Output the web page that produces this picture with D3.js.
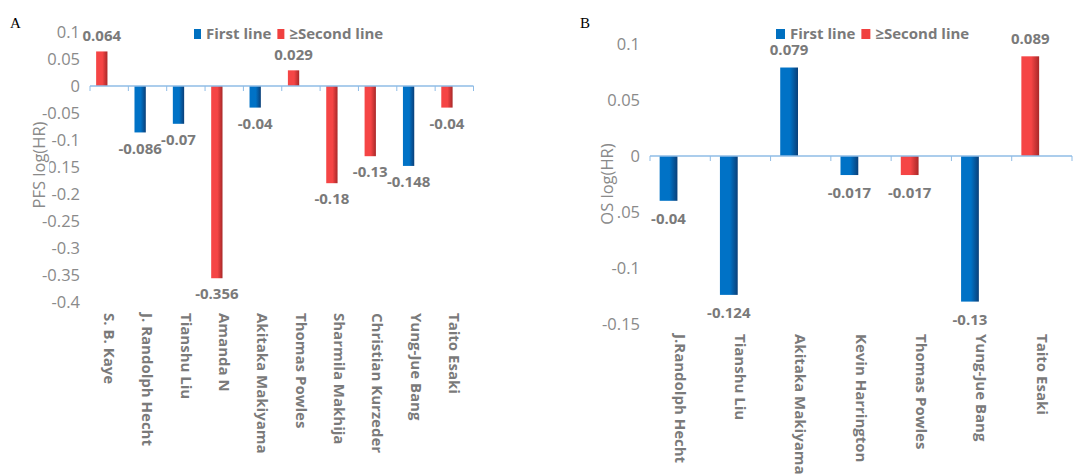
<!DOCTYPE html>
<html>
<head>
<meta charset="utf-8">
<script src="https://cdn.jsdelivr.net/npm/d3@7"></script>
<style>
  body { margin: 0; background: #fff; }
  svg { display: block; font-family: "Open Sans", "Noto Sans", sans-serif; }
</style>
</head>
<body>
<div id="vis"></div>
<script>
// panel A - PFS
var pfsNames = ['S. B. Kaye', 'J. Randolph Hecht', 'Tianshu Liu', 'Amanda N', 'Akitaka Makiyama',
  'Thomas Powles', 'Sharmila Makhija', 'Christian Kurzeder', 'Yung-Jue Bang', 'Taito Esaki'];
var pfsValues = [0.064, -0.086, -0.07, -0.356, -0.04, 0.029, -0.18, -0.13, -0.148, -0.04];
var pfsLine = ['second', 'first', 'first', 'second', 'first', 'second', 'second', 'second', 'first', 'second'];
var pfsTicks = [0.1, 0.05, 0, -0.05, -0.1, -0.15, -0.2, -0.25, -0.3, -0.35, -0.4];

// panel B - OS
var osNames = ['J.Randolph Hecht', 'Tianshu Liu', 'Akitaka Makiyama', 'Kevin Harrington',
  'Thomas Powles', 'Yung-Jue Bang', 'Taito Esaki'];
var osValues = [-0.04, -0.124, 0.079, -0.017, -0.017, -0.13, 0.089];
var osLine = ['first', 'first', 'first', 'first', 'second', 'first', 'second'];
var osTicks = [0.1, 0.05, 0, -0.05, -0.1, -0.15];

var legendLabels = ['First line', '\u2265Second line'];

var WIDTH = 1091, HEIGHT = 474;
var svg = d3.select('#vis').append('svg')
  .attr('width', WIDTH)
  .attr('height', HEIGHT);

// bar gradients
var defs = svg.append('defs');
function addGrad(id, c1, c2) {
  var g = defs.append('linearGradient').attr('id', id)
    .attr('x1', '0%').attr('x2', '100%').attr('y1', '0%').attr('y2', '0%');
  g.append('stop').attr('offset', '0%').attr('stop-color', c1);
  g.append('stop').attr('offset', '55%').attr('stop-color', c1);
  g.append('stop').attr('offset', '100%').attr('stop-color', c2);
}
addGrad('gFirst', '#0072c6', '#0a3f78');
addGrad('gSecond', '#f54545', '#a82828');
var fillFor = { first: 'url(#gFirst)', second: 'url(#gSecond)' };
var legendColor = { first: '#0070c0', second: '#f0403f' };

var tickColor = '#8a8a8a';
var labelColor = '#7a7a7a';
var axisColor = '#8fbce6';

function drawPanel(opt) {
  var g = svg.append('g');

  var x = d3.scaleBand().domain(opt.names).range([opt.x0, opt.x1]);
  var y = d3.scaleLinear().domain([opt.ymin, opt.ymax]).range([opt.yBottom, opt.yTop]);
  var bw = x.bandwidth();

  // panel letter
  g.append('text')
    .attr('x', opt.letterX).attr('y', 28)
    .style('font-family', '"Liberation Serif", "DejaVu Serif", serif')
    .style('font-size', '15px')
    .attr('fill', '#000')
    .text(opt.letter);

  // y tick labels
  g.selectAll('text.ytick')
    .data(opt.ticks)
    .enter()
    .append('text')
    .attr('class', 'ytick')
    .attr('x', opt.tickX)
    .attr('y', d => y(d))
    .attr('dy', '0.35em')
    .attr('text-anchor', 'end')
    .attr('fill', tickColor)
    .style('font-size', '16.5px')
    .text(d => String(d));

  // y axis title (white box behind, it covers part of a tick label in B)
  var tt = g.append('g')
    .attr('transform', 'translate(' + opt.titleX + ',' + opt.titleY + ') rotate(-90)');
  var title = tt.append('text')
    .attr('text-anchor', 'middle')
    .attr('dy', '0.35em')
    .attr('fill', tickColor)
    .style('font-size', '16.5px')
    .text(opt.title);
  var bb = title.node().getBBox();
  tt.insert('rect', 'text')
    .attr('x', bb.x - 1).attr('y', bb.y + 1.5)
    .attr('width', bb.width + 2).attr('height', bb.height - 2)
    .attr('fill', '#fff');

  // bars
  g.selectAll('rect.bar')
    .data(opt.values)
    .enter()
    .append('rect')
    .attr('class', 'bar')
    .attr('x', (d, i) => x(opt.names[i]) + bw * 0.16)
    .attr('width', bw * 0.295)
    .attr('y', d => y(Math.max(0, d)))
    .attr('height', d => Math.abs(y(d) - y(0)))
    .attr('fill', (d, i) => fillFor[opt.line[i]]);

  // zero axis line and ticks
  g.append('line')
    .attr('x1', opt.x0).attr('x2', opt.x1)
    .attr('y1', y(0)).attr('y2', y(0))
    .attr('stroke', axisColor).attr('stroke-width', 1.5);
  var tickPos = opt.names.map(n => x(n)).concat([opt.x1]);
  g.selectAll('line.xtick')
    .data(tickPos)
    .enter()
    .append('line')
    .attr('x1', d => d).attr('x2', d => d)
    .attr('y1', y(0)).attr('y2', y(0) + 5)
    .attr('stroke', axisColor).attr('stroke-width', 1);

  // data labels
  g.selectAll('text.val')
    .data(opt.values)
    .enter()
    .append('text')
    .attr('class', 'val')
    .attr('x', (d, i) => x(opt.names[i]) + bw * 0.16 + bw * 0.295 / 2)
    .attr('y', d => d >= 0 ? y(d) - opt.labelGap : y(d) + opt.labelGap)
    .attr('dy', '0.35em')
    .attr('text-anchor', 'middle')
    .attr('fill', labelColor)
    .style('font-size', '15px')
    .style('font-weight', 'bold')
    .text(d => String(d));

  // category labels, rotated
  g.selectAll('text.cat')
    .data(opt.names)
    .enter()
    .append('text')
    .attr('class', 'cat')
    .attr('transform', d => 'translate(' + (x(d) + bw / 2) + ',' + opt.catY + ') rotate(90)')
    .attr('dy', '0.35em')
    .attr('fill', labelColor)
    .style('font-size', '15px')
    .style('font-weight', 'bold')
    .text(d => d);

  // legend
  var lg = g.append('g').attr('transform', 'translate(' + opt.legendX + ',34)');
  var lx = 0;
  ['first', 'second'].forEach((k, i) => {
    lg.append('rect')
      .attr('x', lx).attr('y', -5)
      .attr('width', opt.swatchW).attr('height', 10)
      .attr('fill', legendColor[k]);
    var t = lg.append('text')
      .attr('x', lx + opt.swatchW + 5)
      .attr('dy', '0.35em')
      .attr('fill', labelColor)
      .style('font-size', '15px')
      .style('font-weight', 'bold')
      .text(legendLabels[i]);
    lx += opt.swatchW + 5 + t.node().getComputedTextLength() + 6;
  });
}

drawPanel({
  letter: 'A', letterX: 10,
  names: pfsNames, values: pfsValues, line: pfsLine, ticks: pfsTicks,
  x0: 90, x1: 473.5, ymin: -0.4, ymax: 0.1, yBottom: 302, yTop: 32,
  tickX: 80, title: 'PFS log(HR)', titleX: 39, titleY: 165,
  labelGap: 16, catY: 313, legendX: 194, swatchW: 7
});

drawPanel({
  letter: 'B', letterX: 580,
  names: osNames, values: osValues, line: osLine, ticks: osTicks,
  x0: 650, x1: 1072, ymin: -0.15, ymax: 0.1, yBottom: 324, yTop: 44,
  tickX: 640, title: 'OS log(HR)', titleX: 607, titleY: 184,
  labelGap: 18, catY: 334, legendX: 776, swatchW: 9
});
</script>
</body>
</html>
